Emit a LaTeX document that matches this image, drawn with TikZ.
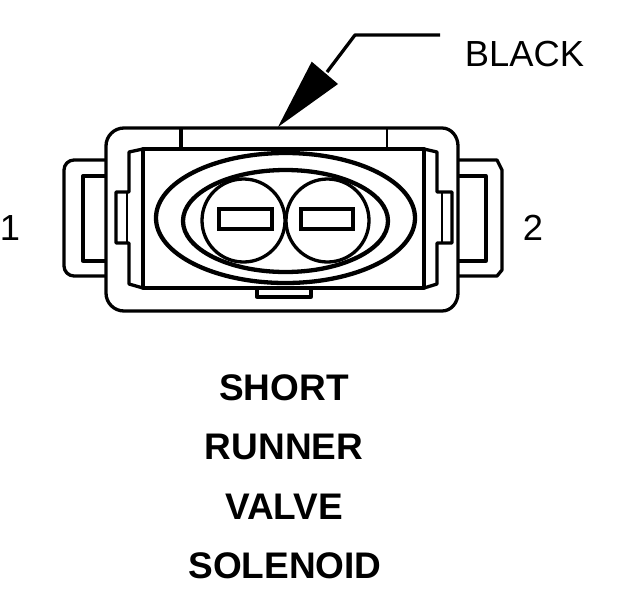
\documentclass[tikz,border=0pt]{standalone}
\usepackage{fontspec}
\setmainfont{Liberation Sans}
\tikzset{
  thick line/.style={line width=3.3pt,line join=round},
  thin line/.style={line width=2.6pt,line join=round},
  heavy line/.style={line width=4.3pt,line join=miter},
  plain label/.style={inner sep=0pt,font=\fontsize{36.3}{36}\selectfont},
  bold label/.style={inner sep=0pt,font=\fontsize{37}{37}\selectfont\bfseries},
}
\begin{document}
\begin{tikzpicture}[x=1pt,y=-1pt]
\useasboundingbox (0,0) rectangle (624,600);
% tabs
\draw[thick line] (106,160) -- (74,160) to[out=180,in=90] (64,170) -- (64,266) to[out=-90,in=180] (74,276) -- (106,276);
\draw[thick line] (106,176) -- (83,176) -- (83,261) -- (106,261);
\draw[thick line] (458,160) -- (497,160) -- (502,170) -- (502,270) -- (497,276) -- (458,276);
\draw[thick line] (458,176) -- (486,176) -- (486,261) -- (458,261);
% body
\draw[thick line,fill=white] (124,128) -- (442,128) to[out=0,in=90] (458,146) -- (458,293) to[out=-90,in=0] (442,311) -- (124,311) to[out=180,in=-90] (106,293) -- (106,146) to[out=90,in=180] (124,128) -- cycle;
\draw[thick line] (181,128) -- (181,149);
\draw[thin line] (387,128) -- (387,149);
% bottom tab
\draw[thick line] (257,288) -- (257,297) -- (311,297) -- (311,288);
% inner block
\draw[thick line] (143,149) rectangle (424,288);
\draw[thick line] (143,149) -- (129,152) -- (129,192) -- (116,192) -- (116,243) -- (129,243) -- (129,284) -- (143,288);
\draw[thin line] (127,192) -- (127,243);
\draw[thick line] (424,149) -- (437,152) -- (437,192) -- (452,192) -- (452,243) -- (437,243) -- (437,284) -- (424,288);
\draw[thin line] (442,192) -- (442,243);
% ellipses
\draw[heavy line] (285.5,218) ellipse [x radius=129.5,y radius=65];
\draw[heavy line] (285.5,221) ellipse [x radius=102.5,y radius=51];
\draw[thick line] (243.5,220.5) circle [radius=41.5];
\draw[thick line] (327.5,220.5) circle [radius=41.5];
\draw[heavy line] (219,209) rectangle (272,229);
\draw[heavy line] (301,209) rectangle (353,229);
% pointer
\draw[thick line] (440,35) -- (355,35) -- (327,72);
\fill (278,127) -- (311.7,61.7) -- (338,84) -- cycle;
% labels
\node[plain label,anchor=center] (black) at (524.5,54) {BLACK};
\node[plain label,anchor=center] (one) at (10,228) {1};
\node[plain label,anchor=center] (two) at (533,228) {2};
\node[bold label] (l1) at (284,388) {SHORT};
\node[bold label] (l2) at (284,447) {RUNNER};
\node[bold label] (l3) at (284,507) {VALVE};
\node[bold label] (l4) at (285,566) {SOLENOID};
\end{tikzpicture}
\end{document}
